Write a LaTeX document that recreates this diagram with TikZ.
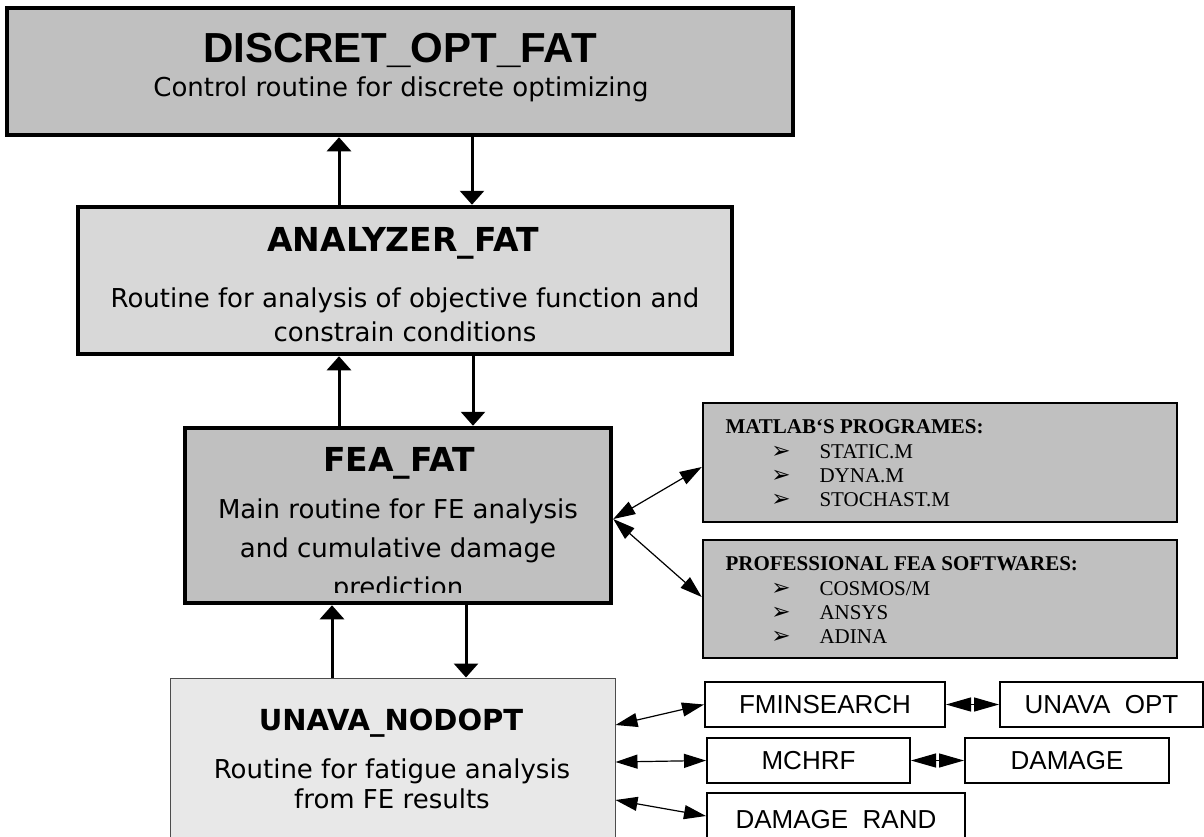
\documentclass[tikz,border=0pt]{standalone}
\usepackage{fontspec}
\usepackage{xcolor}
\usepackage{tikz}
\usetikzlibrary{arrows.meta, calc, positioning}
\newfontfamily\lucida{DejaVu Sans}
\newfontfamily\arialfont{Liberation Sans}
\newfontfamily\timesfont{Liberation Serif}
\definecolor{midgray}{HTML}{C0C0C0}
\definecolor{softgray}{HTML}{D8D8D8}
\definecolor{palegray}{HTML}{E8E8E8}

\begin{document}
\begin{tikzpicture}[x=1pt, y=-1pt,
    routine/.style={draw, line width=4.5pt, fill=midgray, inner sep=0pt},
    listbox/.style={draw, line width=2.5pt, fill=midgray, inner sep=0pt},
    funbox/.style={draw, line width=2pt, fill=white, inner sep=0pt, font=\arialfont\fontsize{26}{26}\selectfont},
    boxtitle/.style={font=\lucida\bfseries\fontsize{33}{33}\selectfont},
    descr/.style={font=\lucida\fontsize{26}{34}\selectfont, align=center},
    listhead/.style={anchor=west, font=\timesfont\bfseries\fontsize{21}{21}\selectfont},
    listitem/.style={anchor=west, font=\timesfont\fontsize{21}{21}\selectfont},
    listmark/.style={font=\lucida\fontsize{23}{23}\selectfont},
    flow/.style={line width=3pt, -{Triangle[length=14pt, width=24pt]}},
    link/.style={line width=1.2pt, {Triangle[length=22pt, width=14pt]}-{Triangle[length=22pt, width=14pt]}},
    pair/.style={line width=1.2pt, {Triangle[length=25pt, width=14pt]}-{Triangle[length=25pt, width=14pt]}},
]
    \useasboundingbox (0,0) rectangle (1204,836);

    % 顶层控制程序
    \node[routine, minimum width=786pt, minimum height=127pt] (discret) at (400,71.5) {};
    \node[font=\arialfont\bfseries\fontsize{42}{42}\selectfont] (discretname) at (400,50) {DISCRET\_OPT\_FAT};
    \node[descr] (discretdesc) at (401,89) {Control routine for discrete optimizing};

    % 分析程序
    \node[routine, fill=softgray, minimum width=654pt, minimum height=147pt] (ana) at (405,280.5) {};
    \node[boxtitle] (ananame) at (403,243) {ANALYZER\_FAT};
    \node[descr] (anadesc) at (405,315) {Routine for analysis of objective function and\\constrain conditions};

    % 有限元程序
    \node[routine, minimum width=426pt, minimum height=175pt] (fea) at (398,515.5) {};
    \node[boxtitle] (feaname) at (399,463) {FEA\_FAT};
    \begin{scope}
        \clip (188,430) rectangle (608,592);
        \node[descr, font=\lucida\fontsize{26}{39}\selectfont] (feadesc) at (398,550) {Main routine for FE analysis\\and cumulative damage\\prediction};
    \end{scope}

    % 疲劳分析程序
    \node[draw=black!70, line width=1pt, fill=palegray, minimum width=445pt, minimum height=172pt] (unava) at (392.5,764) {};
    \node[boxtitle, font=\lucida\bfseries\fontsize{29}{29}\selectfont] (unavaname) at (391,723) {UNAVA\_NODOPT};
    \node[descr, font=\lucida\fontsize{26}{30}\selectfont] (unavadesc) at (392,784) {Routine for fatigue analysis\\from FE results};

    % 上下数据流
    \draw[flow] ($(ana.north)+(-66,0)$) -- ($(discret.south)+(-61,0)$);
    \draw[flow] ($(discret.south)+(72,0)$) -- ($(ana.north)+(67,0)$);
    \draw[flow] ($(fea.north)+(-59,0)$) -- ($(ana.south)+(-66,0)$);
    \draw[flow] ($(ana.south)+(68,0)$) -- ($(fea.north)+(75,0)$);
    \draw[flow] ($(unava.north)+(-60.5,0)$) -- ($(fea.south)+(-66,0)$);
    \draw[flow] ($(fea.south)+(68,0)$) -- ($(unava.north)+(73.5,0)$);

    % MATLAB程序
    \node[listbox, minimum width=474pt, minimum height=119pt] (matlab) at (940,462.5) {};
    \node[listhead] (matlabhead) at (722,427) {MATLAB‘S PROGRAMES:};
    \foreach \prog [count=\i] in {STATIC.M, DYNA.M, STOCHAST.M} {
        \node[listmark] (matlabmark-\i) at (781,428+\i*24) {➢};
        \node[listitem] (matlab-\i) at (816,428+\i*24) {\prog};
    }

    % 商用有限元软件
    \node[listbox, minimum width=474pt, minimum height=118pt] (prof) at (940,599) {};
    \node[listhead] (profhead) at (722,564) {PROFESSIONAL FEA SOFTWARES:};
    \foreach \prog [count=\i] in {COSMOS/M, ANSYS, ADINA} {
        \node[listmark] (profmark-\i) at (781,565+\i*24) {➢};
        \node[listitem] (prof-\i) at (816,565+\i*24) {\prog};
    }

    \draw[link] ($(fea.east)+(0,3.5)$) -- ($(matlab.west)+(0,4.5)$);
    \draw[link] ($(fea.east)+(0,3.5)$) -- ($(prof.west)+(0,-2)$);

    % 子程序
    \node[funbox, minimum width=240pt, minimum height=45pt] (fmin) at (825,704.5) {FMINSEARCH};
    \node[funbox, minimum width=203pt, minimum height=45pt] (unavaopt) at (1101.5,704.5) {UNAVA\ \ OPT};
    \node[funbox, minimum width=203pt, minimum height=45pt] (mchrf) at (808.5,760.5) {MCHRF};
    \node[funbox, minimum width=204pt, minimum height=45pt] (damage) at (1067,760.5) {DAMAGE};
    \node[funbox, minimum width=258pt, minimum height=54pt] (damrand) at (836,820) {DAMAGE\ \ RAND};

    \draw[link] ($(unava.east)+(0,-39)$) -- (fmin.west);
    \draw[link] ($(unava.east)+(0,-2)$) -- (mchrf.west);
    \draw[link] ($(unava.east)+(0,36)$) -- ($(damrand.west)+(0,-4)$);
    \draw[pair] (fmin) -- (unavaopt);
    \draw[pair] (mchrf) -- (damage);
\end{tikzpicture}
\end{document}
